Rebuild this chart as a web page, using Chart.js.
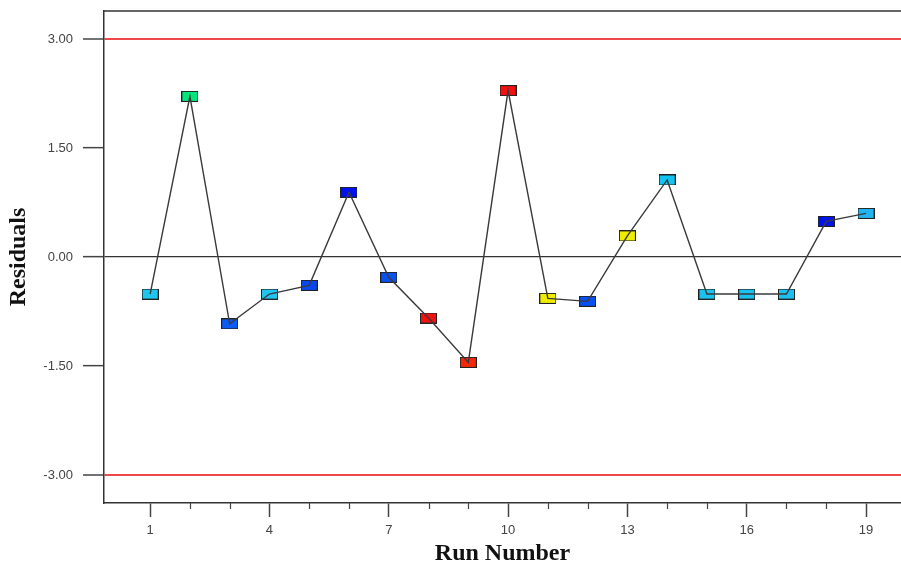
<!DOCTYPE html>
<html>
<head>
<meta charset="utf-8">
<script src="https://cdn.jsdelivr.net/npm/chart.js@4/dist/chart.umd.min.js"></script>
<style>
  html, body { margin: 0; padding: 0; background: #fff; }
  #wrap { width: 901px; height: 565px; }
</style>
</head>
<body>
<div id="wrap"><canvas id="resChart" width="901" height="565"></canvas></div>
<script>
const runs = [1, 2, 3, 4, 5, 6, 7, 8, 9, 10, 11, 12, 13, 14, 15, 16, 17, 18, 19];
const residuals = [-0.51, 2.21, -0.92, -0.51, -0.39, 0.89, -0.28, -0.84, -1.45, 2.29,
                   -0.57, -0.61, 0.29, 1.06, -0.51, -0.51, -0.51, 0.49, 0.60];
const pointColors = ['#1ec6ee', '#00e87c', '#0a5cf2', '#20c4ee', '#0848f0', '#0010f0', '#0a52f0',
                     '#f41010', '#f42808', '#f41010', '#f0ec00', '#0a50f0', '#f0ec00', '#10c4f4',
                     '#1cc0ee', '#1cc0ee', '#1cc0ee', '#0014e8', '#22b4f0'];
const yTicks = [-3, -1.5, 0, 1.5, 3];
const xLabelRuns = [1, 4, 7, 10, 13, 16, 19];
const limits = [-3, 3];

// small rectangle markers, one per colour
function makeMarker(color) {
  const c = document.createElement('canvas');
  c.width = 17; c.height = 11;
  const g = c.getContext('2d');
  g.fillStyle = color;
  g.fillRect(0, 0, 17, 11);
  g.strokeStyle = '#222';
  g.lineWidth = 1;
  g.strokeRect(0.5, 0.5, 16, 10);
  return c;
}
const markers = pointColors.map(makeMarker);

const points = runs.map((r, i) => ({ x: r, y: residuals[i] }));

const frame = {
  id: 'frame',
  afterDraw(chart) {
    const { ctx, chartArea } = chart;
    const xs = chart.scales.x;
    ctx.save();
    ctx.strokeStyle = '#333';
    ctx.lineWidth = 1.5;
    ctx.beginPath();
    ctx.moveTo(chartArea.left, chartArea.top);
    ctx.lineTo(chartArea.right, chartArea.top);
    ctx.stroke();
    // minor ticks
    ctx.lineWidth = 1.2;
    ctx.strokeStyle = '#444';
    runs.forEach(r => {
      if (xLabelRuns.includes(r)) return;
      const px = Math.round(xs.getPixelForValue(r)) + 0.5;
      ctx.beginPath();
      ctx.moveTo(px, chartArea.bottom);
      ctx.lineTo(px, chartArea.bottom + 6);
      ctx.stroke();
    });
    ctx.restore();
  }
};

new Chart(document.getElementById('resChart'), {
  type: 'scatter',
  data: {
    datasets: [
      {
        data: points,
        showLine: true,
        borderColor: '#3a3a3a',
        borderWidth: 1.4,
        pointRadius: 0,
        pointHoverRadius: 0,
        order: 0
      },
      {
        data: points,
        showLine: false,
        pointStyle: markers,
        pointRadius: 6,
        order: 1
      }
    ]
  },
  plugins: [frame],
  options: {
    responsive: false,
    animation: false,
    events: [],
    layout: { autoPadding: false, padding: { top: 11, right: 0, left: 0, bottom: 0 } },
    plugins: { legend: { display: false }, tooltip: { enabled: false } },
    scales: {
      x: {
        type: 'linear',
        min: -0.16,
        max: 19.88,
        afterBuildTicks: s => { s.ticks = runs.map(v => ({ value: v })); },
        afterFit: s => { s.height = 62; s.paddingLeft = 0; s.paddingRight = 0; },
        border: { color: '#333', width: 1.5 },
        grid: {
          drawOnChartArea: false,
          tickLength: 14,
          tickWidth: 1.5,
          tickColor: c => xLabelRuns.includes(c.tick.value) ? '#444' : 'rgba(0,0,0,0)'
        },
        ticks: {
          autoSkip: false,
          maxRotation: 0,
          padding: 6,
          color: '#444',
          font: { family: 'Liberation Sans, Arial, sans-serif', size: 13 },
          callback: v => xLabelRuns.includes(v) ? String(v) : ''
        },
        title: {
          display: true,
          text: 'Run Number',
          color: '#111',
          padding: { top: 0, bottom: -3 },
          font: { family: 'Liberation Serif, Times New Roman, serif', size: 24, weight: 'bold' }
        }
      },
      y: {
        min: -3.385,
        max: 3.385,
        afterBuildTicks: s => { s.ticks = yTicks.map(v => ({ value: v })); },
        afterFit: s => { s.width = 104; s.paddingTop = 0; s.paddingBottom = 0; },
        border: { color: '#333', width: 1.5 },
        grid: {
          drawOnChartArea: true,
          tickLength: 21,
          tickWidth: 1.5,
          tickColor: '#444',
          color: c => c.tick.value === 0 ? '#333' : (limits.includes(c.tick.value) ? '#f04848' : 'rgba(0,0,0,0)'),
          lineWidth: c => limits.includes(c.tick.value) ? 2 : 1.3
        },
        ticks: {
          padding: 10,
          color: '#444',
          font: { family: 'Liberation Sans, Arial, sans-serif', size: 13 },
          callback: v => v.toFixed(2)
        },
        title: {
          display: true,
          text: 'Residuals',
          color: '#111',
          padding: { top: 4, bottom: 0 },
          font: { family: 'Liberation Serif, Times New Roman, serif', size: 24, weight: 'bold' }
        }
      }
    }
  }
});
</script>
</body>
</html>
